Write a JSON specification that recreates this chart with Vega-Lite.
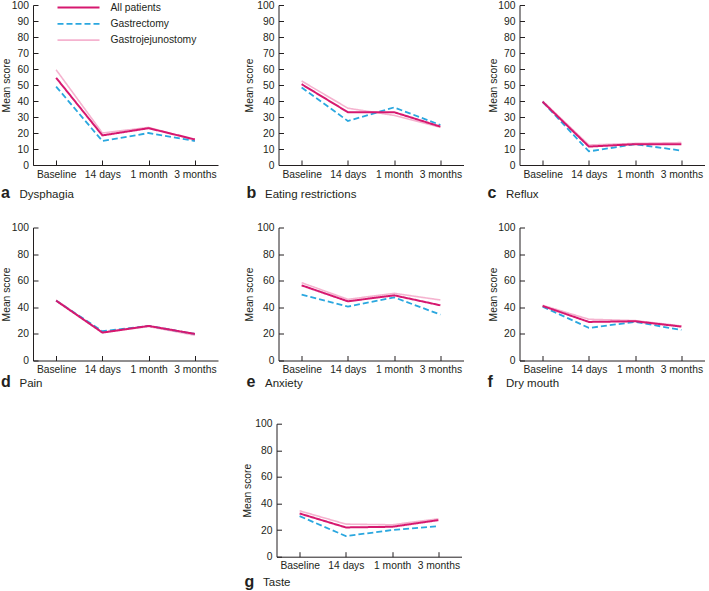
{
  "$schema": "https://vega.github.io/schema/vega-lite/v6.json",
  "padding": {"left": 1, "top": 0, "right": 0, "bottom": 0},
  "background": "white",
  "datasets": {
    "scores": [
      {"measure": "Dysphagia", "group": "Gastrojejunostomy", "time": "Baseline", "score": 59.5},
      {"measure": "Dysphagia", "group": "Gastrojejunostomy", "time": "14 days", "score": 20},
      {"measure": "Dysphagia", "group": "Gastrojejunostomy", "time": "1 month", "score": 23.5},
      {"measure": "Dysphagia", "group": "Gastrojejunostomy", "time": "3 months", "score": 15.5},
      {"measure": "Dysphagia", "group": "Gastrectomy", "time": "Baseline", "score": 49},
      {"measure": "Dysphagia", "group": "Gastrectomy", "time": "14 days", "score": 15},
      {"measure": "Dysphagia", "group": "Gastrectomy", "time": "1 month", "score": 20},
      {"measure": "Dysphagia", "group": "Gastrectomy", "time": "3 months", "score": 15},
      {"measure": "Dysphagia", "group": "All patients", "time": "Baseline", "score": 54.5},
      {"measure": "Dysphagia", "group": "All patients", "time": "14 days", "score": 18.5},
      {"measure": "Dysphagia", "group": "All patients", "time": "1 month", "score": 23},
      {"measure": "Dysphagia", "group": "All patients", "time": "3 months", "score": 16},

      {"measure": "Eating restrictions", "group": "Gastrojejunostomy", "time": "Baseline", "score": 52.5},
      {"measure": "Eating restrictions", "group": "Gastrojejunostomy", "time": "14 days", "score": 35.5},
      {"measure": "Eating restrictions", "group": "Gastrojejunostomy", "time": "1 month", "score": 31},
      {"measure": "Eating restrictions", "group": "Gastrojejunostomy", "time": "3 months", "score": 23.5},
      {"measure": "Eating restrictions", "group": "Gastrectomy", "time": "Baseline", "score": 48.5},
      {"measure": "Eating restrictions", "group": "Gastrectomy", "time": "14 days", "score": 27.5},
      {"measure": "Eating restrictions", "group": "Gastrectomy", "time": "1 month", "score": 36},
      {"measure": "Eating restrictions", "group": "Gastrectomy", "time": "3 months", "score": 25},
      {"measure": "Eating restrictions", "group": "All patients", "time": "Baseline", "score": 50.5},
      {"measure": "Eating restrictions", "group": "All patients", "time": "14 days", "score": 33},
      {"measure": "Eating restrictions", "group": "All patients", "time": "1 month", "score": 33},
      {"measure": "Eating restrictions", "group": "All patients", "time": "3 months", "score": 24},

      {"measure": "Reflux", "group": "Gastrojejunostomy", "time": "Baseline", "score": 40},
      {"measure": "Reflux", "group": "Gastrojejunostomy", "time": "14 days", "score": 12.5},
      {"measure": "Reflux", "group": "Gastrojejunostomy", "time": "1 month", "score": 13.5},
      {"measure": "Reflux", "group": "Gastrojejunostomy", "time": "3 months", "score": 14},
      {"measure": "Reflux", "group": "Gastrectomy", "time": "Baseline", "score": 39.5},
      {"measure": "Reflux", "group": "Gastrectomy", "time": "14 days", "score": 8.5},
      {"measure": "Reflux", "group": "Gastrectomy", "time": "1 month", "score": 13},
      {"measure": "Reflux", "group": "Gastrectomy", "time": "3 months", "score": 9},
      {"measure": "Reflux", "group": "All patients", "time": "Baseline", "score": 39.5},
      {"measure": "Reflux", "group": "All patients", "time": "14 days", "score": 11.5},
      {"measure": "Reflux", "group": "All patients", "time": "1 month", "score": 13},
      {"measure": "Reflux", "group": "All patients", "time": "3 months", "score": 13},

      {"measure": "Pain", "group": "Gastrojejunostomy", "time": "Baseline", "score": 45.5},
      {"measure": "Pain", "group": "Gastrojejunostomy", "time": "14 days", "score": 21},
      {"measure": "Pain", "group": "Gastrojejunostomy", "time": "1 month", "score": 25.5},
      {"measure": "Pain", "group": "Gastrojejunostomy", "time": "3 months", "score": 19},
      {"measure": "Pain", "group": "Gastrectomy", "time": "Baseline", "score": 45},
      {"measure": "Pain", "group": "Gastrectomy", "time": "14 days", "score": 22},
      {"measure": "Pain", "group": "Gastrectomy", "time": "1 month", "score": 26},
      {"measure": "Pain", "group": "Gastrectomy", "time": "3 months", "score": 20},
      {"measure": "Pain", "group": "All patients", "time": "Baseline", "score": 45},
      {"measure": "Pain", "group": "All patients", "time": "14 days", "score": 21},
      {"measure": "Pain", "group": "All patients", "time": "1 month", "score": 26},
      {"measure": "Pain", "group": "All patients", "time": "3 months", "score": 20},

      {"measure": "Anxiety", "group": "Gastrojejunostomy", "time": "Baseline", "score": 58.5},
      {"measure": "Anxiety", "group": "Gastrojejunostomy", "time": "14 days", "score": 46},
      {"measure": "Anxiety", "group": "Gastrojejunostomy", "time": "1 month", "score": 50.5},
      {"measure": "Anxiety", "group": "Gastrojejunostomy", "time": "3 months", "score": 45.5},
      {"measure": "Anxiety", "group": "Gastrectomy", "time": "Baseline", "score": 49.5},
      {"measure": "Anxiety", "group": "Gastrectomy", "time": "14 days", "score": 40.5},
      {"measure": "Anxiety", "group": "Gastrectomy", "time": "1 month", "score": 47.5},
      {"measure": "Anxiety", "group": "Gastrectomy", "time": "3 months", "score": 34.5},
      {"measure": "Anxiety", "group": "All patients", "time": "Baseline", "score": 56.5},
      {"measure": "Anxiety", "group": "All patients", "time": "14 days", "score": 44.5},
      {"measure": "Anxiety", "group": "All patients", "time": "1 month", "score": 49},
      {"measure": "Anxiety", "group": "All patients", "time": "3 months", "score": 41.5},

      {"measure": "Dry mouth", "group": "Gastrojejunostomy", "time": "Baseline", "score": 41.5},
      {"measure": "Dry mouth", "group": "Gastrojejunostomy", "time": "14 days", "score": 31},
      {"measure": "Dry mouth", "group": "Gastrojejunostomy", "time": "1 month", "score": 30},
      {"measure": "Dry mouth", "group": "Gastrojejunostomy", "time": "3 months", "score": 26},
      {"measure": "Dry mouth", "group": "Gastrectomy", "time": "Baseline", "score": 40.5},
      {"measure": "Dry mouth", "group": "Gastrectomy", "time": "14 days", "score": 24.5},
      {"measure": "Dry mouth", "group": "Gastrectomy", "time": "1 month", "score": 29},
      {"measure": "Dry mouth", "group": "Gastrectomy", "time": "3 months", "score": 23},
      {"measure": "Dry mouth", "group": "All patients", "time": "Baseline", "score": 41},
      {"measure": "Dry mouth", "group": "All patients", "time": "14 days", "score": 29},
      {"measure": "Dry mouth", "group": "All patients", "time": "1 month", "score": 29.5},
      {"measure": "Dry mouth", "group": "All patients", "time": "3 months", "score": 25.5},

      {"measure": "Taste", "group": "Gastrojejunostomy", "time": "Baseline", "score": 34.5},
      {"measure": "Taste", "group": "Gastrojejunostomy", "time": "14 days", "score": 24.5},
      {"measure": "Taste", "group": "Gastrojejunostomy", "time": "1 month", "score": 24},
      {"measure": "Taste", "group": "Gastrojejunostomy", "time": "3 months", "score": 28.5},
      {"measure": "Taste", "group": "Gastrectomy", "time": "Baseline", "score": 30.5},
      {"measure": "Taste", "group": "Gastrectomy", "time": "14 days", "score": 15.5},
      {"measure": "Taste", "group": "Gastrectomy", "time": "1 month", "score": 20},
      {"measure": "Taste", "group": "Gastrectomy", "time": "3 months", "score": 23},
      {"measure": "Taste", "group": "All patients", "time": "Baseline", "score": 32.5},
      {"measure": "Taste", "group": "All patients", "time": "14 days", "score": 22},
      {"measure": "Taste", "group": "All patients", "time": "1 month", "score": 22.5},
      {"measure": "Taste", "group": "All patients", "time": "3 months", "score": 27.5}
    ]
  },
  "resolve": {"scale": {"color": "independent", "strokeDash": "independent", "strokeWidth": "independent"}},
  "spacing": 28.7,
  "vconcat": [
    {
      "spacing": 21.5,
      "resolve": {"scale": {"color": "independent", "strokeDash": "independent", "strokeWidth": "independent"}},
      "vconcat": [
        {
          "spacing": 23.5,
          "resolve": {"scale": {"color": "independent", "strokeDash": "independent", "strokeWidth": "independent"}},
          "hconcat": [
            {
              "spacing": 25.5,
              "resolve": {"scale": {"color": "independent", "strokeDash": "independent", "strokeWidth": "independent"}},
              "hconcat": [
                {
                  "width": 185, "height": 160,
                  "data": {"name": "scores"},
                  "transform": [{"filter": "datum.measure === 'Dysphagia'"}],
                  "title": {"text": "a", "offset": -14.7},
                  "mark": {"type": "line"},
                  "encoding": {
                    "x": {"field": "time", "type": "ordinal", "sort": ["Baseline", "14 days", "1 month", "3 months"], "scale": {"type": "point", "padding": 0.5}, "axis": {"title": "Dysphagia", "titleY": 32}},
                    "y": {"field": "score", "type": "quantitative", "scale": {"domain": [0, 100]}, "axis": {"title": "Mean score", "values": [0, 10, 20, 30, 40, 50, 60, 70, 80, 90, 100]}},
                    "color": {"field": "group", "type": "nominal", "scale": {"domain": ["All patients", "Gastrectomy", "Gastrojejunostomy"], "range": ["#d6186f", "#2aa7df", "#f5b3cf"]}, "legend": {"title": null, "orient": "none", "legendX": 39.5, "legendY": -3.5}},
                    "strokeDash": {"field": "group", "type": "nominal", "scale": {"domain": ["All patients", "Gastrectomy", "Gastrojejunostomy"], "range": [[1, 0], [6, 3], [1, 0]]}, "legend": {"title": null, "orient": "none", "legendX": 39.5, "legendY": -3.5}},
                    "strokeWidth": {"field": "group", "type": "nominal", "scale": {"domain": ["All patients", "Gastrectomy", "Gastrojejunostomy"], "range": [2, 1.6, 2]}, "legend": {"title": null, "orient": "none", "legendX": 39.5, "legendY": -3.5}}
                  }
                },
                {
                  "width": 185, "height": 160,
                  "data": {"name": "scores"},
                  "transform": [{"filter": "datum.measure === 'Eating restrictions'"}],
                  "title": {"text": "b", "offset": -14.7},
                  "mark": {"type": "line"},
                  "encoding": {
                    "x": {"field": "time", "type": "ordinal", "sort": ["Baseline", "14 days", "1 month", "3 months"], "scale": {"type": "point", "padding": 0.5}, "axis": {"title": "Eating restrictions", "titleY": 32}},
                    "y": {"field": "score", "type": "quantitative", "scale": {"domain": [0, 100]}, "axis": {"title": "Mean score", "titlePadding": 2.5, "values": [0, 10, 20, 30, 40, 50, 60, 70, 80, 90, 100]}},
                    "color": {"field": "group", "type": "nominal", "scale": {"domain": ["All patients", "Gastrectomy", "Gastrojejunostomy"], "range": ["#d6186f", "#2aa7df", "#f5b3cf"]}, "legend": null},
                    "strokeDash": {"field": "group", "type": "nominal", "scale": {"domain": ["All patients", "Gastrectomy", "Gastrojejunostomy"], "range": [[1, 0], [6, 3], [1, 0]]}, "legend": null},
                    "strokeWidth": {"field": "group", "type": "nominal", "scale": {"domain": ["All patients", "Gastrectomy", "Gastrojejunostomy"], "range": [2, 1.6, 2]}, "legend": null}
                  }
                }
              ]
            },
            {
              "width": 185, "height": 160,
              "data": {"name": "scores"},
              "transform": [{"filter": "datum.measure === 'Reflux'"}],
              "title": {"text": "c", "offset": -14.7},
              "mark": {"type": "line"},
              "encoding": {
                "x": {"field": "time", "type": "ordinal", "sort": ["Baseline", "14 days", "1 month", "3 months"], "scale": {"type": "point", "padding": 0.5}, "axis": {"title": "Reflux", "titleY": 32}},
                "y": {"field": "score", "type": "quantitative", "scale": {"domain": [0, 100]}, "axis": {"title": "Mean score", "values": [0, 10, 20, 30, 40, 50, 60, 70, 80, 90, 100]}},
                "color": {"field": "group", "type": "nominal", "scale": {"domain": ["All patients", "Gastrectomy", "Gastrojejunostomy"], "range": ["#d6186f", "#2aa7df", "#f5b3cf"]}, "legend": null},
                "strokeDash": {"field": "group", "type": "nominal", "scale": {"domain": ["All patients", "Gastrectomy", "Gastrojejunostomy"], "range": [[1, 0], [6, 3], [1, 0]]}, "legend": null},
                "strokeWidth": {"field": "group", "type": "nominal", "scale": {"domain": ["All patients", "Gastrectomy", "Gastrojejunostomy"], "range": [2, 1.6, 2]}, "legend": null}
              }
            }
          ]
        },
        {
          "spacing": 23.5,
          "resolve": {"scale": {"color": "independent", "strokeDash": "independent", "strokeWidth": "independent"}},
          "hconcat": [
            {
              "spacing": 25.5,
              "resolve": {"scale": {"color": "independent", "strokeDash": "independent", "strokeWidth": "independent"}},
              "hconcat": [
                {
                  "width": 185, "height": 133,
                  "data": {"name": "scores"},
                  "transform": [{"filter": "datum.measure === 'Pain'"}],
                  "title": {"text": "d", "offset": -14.7},
                  "mark": {"type": "line"},
                  "encoding": {
                    "x": {"field": "time", "type": "ordinal", "sort": ["Baseline", "14 days", "1 month", "3 months"], "scale": {"type": "point", "padding": 0.5}, "axis": {"title": "Pain", "titleY": 25.5}},
                    "y": {"field": "score", "type": "quantitative", "scale": {"domain": [0, 100]}, "axis": {"title": "Mean score", "values": [0, 20, 40, 60, 80, 100]}},
                    "color": {"field": "group", "type": "nominal", "scale": {"domain": ["All patients", "Gastrectomy", "Gastrojejunostomy"], "range": ["#d6186f", "#2aa7df", "#f5b3cf"]}, "legend": null},
                    "strokeDash": {"field": "group", "type": "nominal", "scale": {"domain": ["All patients", "Gastrectomy", "Gastrojejunostomy"], "range": [[1, 0], [6, 3], [1, 0]]}, "legend": null},
                    "strokeWidth": {"field": "group", "type": "nominal", "scale": {"domain": ["All patients", "Gastrectomy", "Gastrojejunostomy"], "range": [2, 1.6, 2]}, "legend": null}
                  }
                },
                {
                  "width": 185, "height": 133,
                  "data": {"name": "scores"},
                  "transform": [{"filter": "datum.measure === 'Anxiety'"}],
                  "title": {"text": "e", "offset": -14.7},
                  "mark": {"type": "line"},
                  "encoding": {
                    "x": {"field": "time", "type": "ordinal", "sort": ["Baseline", "14 days", "1 month", "3 months"], "scale": {"type": "point", "padding": 0.5}, "axis": {"title": "Anxiety", "titleY": 25.5}},
                    "y": {"field": "score", "type": "quantitative", "scale": {"domain": [0, 100]}, "axis": {"title": "Mean score", "titlePadding": 2.5, "values": [0, 20, 40, 60, 80, 100]}},
                    "color": {"field": "group", "type": "nominal", "scale": {"domain": ["All patients", "Gastrectomy", "Gastrojejunostomy"], "range": ["#d6186f", "#2aa7df", "#f5b3cf"]}, "legend": null},
                    "strokeDash": {"field": "group", "type": "nominal", "scale": {"domain": ["All patients", "Gastrectomy", "Gastrojejunostomy"], "range": [[1, 0], [6, 3], [1, 0]]}, "legend": null},
                    "strokeWidth": {"field": "group", "type": "nominal", "scale": {"domain": ["All patients", "Gastrectomy", "Gastrojejunostomy"], "range": [2, 1.6, 2]}, "legend": null}
                  }
                }
              ]
            },
            {
              "width": 185, "height": 133,
              "data": {"name": "scores"},
              "transform": [{"filter": "datum.measure === 'Dry mouth'"}],
              "title": {"text": "f", "offset": -14.7},
              "mark": {"type": "line"},
              "encoding": {
                "x": {"field": "time", "type": "ordinal", "sort": ["Baseline", "14 days", "1 month", "3 months"], "scale": {"type": "point", "padding": 0.5}, "axis": {"title": "Dry mouth", "titleY": 25.5}},
                "y": {"field": "score", "type": "quantitative", "scale": {"domain": [0, 100]}, "axis": {"title": "Mean score", "values": [0, 20, 40, 60, 80, 100]}},
                "color": {"field": "group", "type": "nominal", "scale": {"domain": ["All patients", "Gastrectomy", "Gastrojejunostomy"], "range": ["#d6186f", "#2aa7df", "#f5b3cf"]}, "legend": null},
                "strokeDash": {"field": "group", "type": "nominal", "scale": {"domain": ["All patients", "Gastrectomy", "Gastrojejunostomy"], "range": [[1, 0], [6, 3], [1, 0]]}, "legend": null},
                "strokeWidth": {"field": "group", "type": "nominal", "scale": {"domain": ["All patients", "Gastrectomy", "Gastrojejunostomy"], "range": [2, 1.6, 2]}, "legend": null}
              }
            }
          ]
        }
      ]
    },
    {
      "spacing": 25.5,
      "resolve": {"scale": {"color": "independent", "strokeDash": "independent", "strokeWidth": "independent"}},
      "hconcat": [
        {
          "width": 183, "height": 10,
          "data": {"values": []},
          "mark": {"type": "text"}
        },
        {
          "width": 185, "height": 133,
          "data": {"name": "scores"},
          "transform": [{"filter": "datum.measure === 'Taste'"}],
          "title": {"text": "g", "offset": -14.7},
          "mark": {"type": "line"},
          "encoding": {
            "x": {"field": "time", "type": "ordinal", "sort": ["Baseline", "14 days", "1 month", "3 months"], "scale": {"type": "point", "padding": 0.5}, "axis": {"title": "Taste", "titleY": 29}},
            "y": {"field": "score", "type": "quantitative", "scale": {"domain": [0, 100]}, "axis": {"title": "Mean score", "titlePadding": 2.5, "values": [0, 20, 40, 60, 80, 100]}},
            "color": {"field": "group", "type": "nominal", "scale": {"domain": ["All patients", "Gastrectomy", "Gastrojejunostomy"], "range": ["#d6186f", "#2aa7df", "#f5b3cf"]}, "legend": null},
            "strokeDash": {"field": "group", "type": "nominal", "scale": {"domain": ["All patients", "Gastrectomy", "Gastrojejunostomy"], "range": [[1, 0], [6, 3], [1, 0]]}, "legend": null},
            "strokeWidth": {"field": "group", "type": "nominal", "scale": {"domain": ["All patients", "Gastrectomy", "Gastrojejunostomy"], "range": [2, 1.6, 2]}, "legend": null}
          }
        }
      ]
    }
  ],
  "config": {
    "font": "Liberation Sans",
    "view": {"stroke": null},
    "axis": {"grid": false, "domainColor": "#231f20", "tickColor": "#231f20", "labelColor": "#231f20", "titleColor": "#231f20", "labelFontSize": 10.3, "titleFontSize": 10.3, "titleFontWeight": "normal", "tickSize": -5, "domainWidth": 1, "tickWidth": 1},
    "axisX": {"labelAngle": 0, "labelPadding": 9, "titleAnchor": "start", "titleAlign": "left", "titleX": -14, "titleBaseline": "alphabetic", "titleFontSize": 11.5},
    "axisY": {"labelPadding": 9.5, "titlePadding": -0.5},
    "title": {"orient": "bottom", "anchor": "start", "frame": "group", "dx": -32, "fontSize": 16, "fontWeight": "bold", "baseline": "alphabetic", "color": "#231f20"},
    "legend": {"symbolType": "M-4.2,0H4.2", "symbolSize": 100, "labelFontSize": 10.3, "labelColor": "#231f20", "labelOffset": 26, "rowPadding": 4.3, "padding": 0}
  }
}
